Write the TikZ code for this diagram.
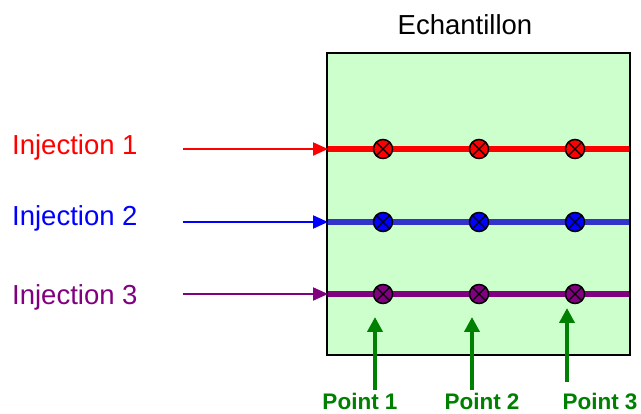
\documentclass[tikz,border=0pt]{standalone}
\usepackage{fontspec}
\setmainfont{Liberation Sans}
\usetikzlibrary{arrows.meta}
\definecolor{boxgreen}{HTML}{CCFFCC}
\definecolor{injred}{HTML}{FF0000}
\definecolor{injblue}{HTML}{0000FF}
\definecolor{lineblue}{HTML}{3333CC}
\definecolor{injpurple}{HTML}{800080}
\definecolor{ptgreen}{HTML}{008000}
\tikzset{
  samplebox/.style={draw=black, line width=1.8pt, fill=boxgreen, minimum width=303pt, minimum height=302pt, inner sep=0pt},
  biglabel/.style={font=\fontsize{27.5}{30}\selectfont, inner sep=0pt},
  ptlabel/.style={font=\fontsize{22.5}{25}\bfseries\selectfont, text=ptgreen, inner sep=0pt, anchor=base},
  injarrow/.style={line width=2pt, -{Triangle[length=15pt,width=13pt]}},
  thickline/.style={line width=6pt},
  meas/.style={circle, draw=black, line width=1.5pt, minimum size=19pt, inner sep=0pt,
    path picture={\draw[black, line width=1.3pt]
      ([shift={(-45:9.5pt)}]path picture bounding box.center) -- ([shift={(135:9.5pt)}]path picture bounding box.center)
      ([shift={(45:9.5pt)}]path picture bounding box.center) -- ([shift={(-135:9.5pt)}]path picture bounding box.center);}},
  ptarrow/.style={draw=ptgreen, line width=4.5pt, -{Triangle[length=15pt,width=15pt]}}
}
\begin{document}
\begin{tikzpicture}[x=1pt,y=-1pt]
\useasboundingbox (0,0) rectangle (641,414);
% sample box
\node[samplebox] (box) at (478.5,204) {};
\node[biglabel, anchor=base] (title) at (465,35) {Echantillon};
% line endpoints
\coordinate (r0) at (328,149); \coordinate (r1) at (629,149);
\coordinate (b0) at (328,222); \coordinate (b1) at (629,222);
\coordinate (p0) at (328,294); \coordinate (p1) at (629,294);
\coordinate (ra) at (183,149); \coordinate (ba) at (183,222); \coordinate (pa) at (183,294);
% thick lines
\draw[thickline, injred] (r0) -- (r1);
\draw[thickline, lineblue] (b0) -- (b1);
\draw[thickline, injpurple] (p0) -- (p1);
% injection labels and arrows
\node[biglabel, anchor=base west, text=injred] (inj1) at (12,155) {Injection 1};
\node[biglabel, anchor=base west, text=injblue] (inj2) at (12,226) {Injection 2};
\node[biglabel, anchor=base west, text=injpurple] (inj3) at (12,305) {Injection 3};
\draw[injarrow, injred] (ra) -- (r0);
\draw[injarrow, injblue] (ba) -- (b0);
\draw[injarrow, injpurple] (pa) -- (p0);
% measurement points
\node[meas, fill=injred] (m11) at (383,149) {};
\node[meas, fill=injred] (m12) at (479,149) {};
\node[meas, fill=injred] (m13) at (575,149) {};
\node[meas, fill=injblue] (m21) at (383,222) {};
\node[meas, fill=injblue] (m22) at (479,222) {};
\node[meas, fill=injblue] (m23) at (575,222) {};
\node[meas, fill=injpurple] (m31) at (383,294) {};
\node[meas, fill=injpurple] (m32) at (479,294) {};
\node[meas, fill=injpurple] (m33) at (575,294) {};
% point labels and arrows
\node[ptlabel] (pt1) at (360,410) {Point 1};
\node[ptlabel] (pt2) at (482,410) {Point 2};
\node[ptlabel] (pt3) at (600,410) {Point 3};
\coordinate (a1s) at (375,390); \coordinate (a1e) at (375,317);
\coordinate (a2s) at (472,390); \coordinate (a2e) at (472,317);
\coordinate (a3s) at (567,382); \coordinate (a3e) at (567,308);
\draw[ptarrow] (a1s) -- (a1e);
\draw[ptarrow] (a2s) -- (a2e);
\draw[ptarrow] (a3s) -- (a3e);
\end{tikzpicture}
\end{document}
